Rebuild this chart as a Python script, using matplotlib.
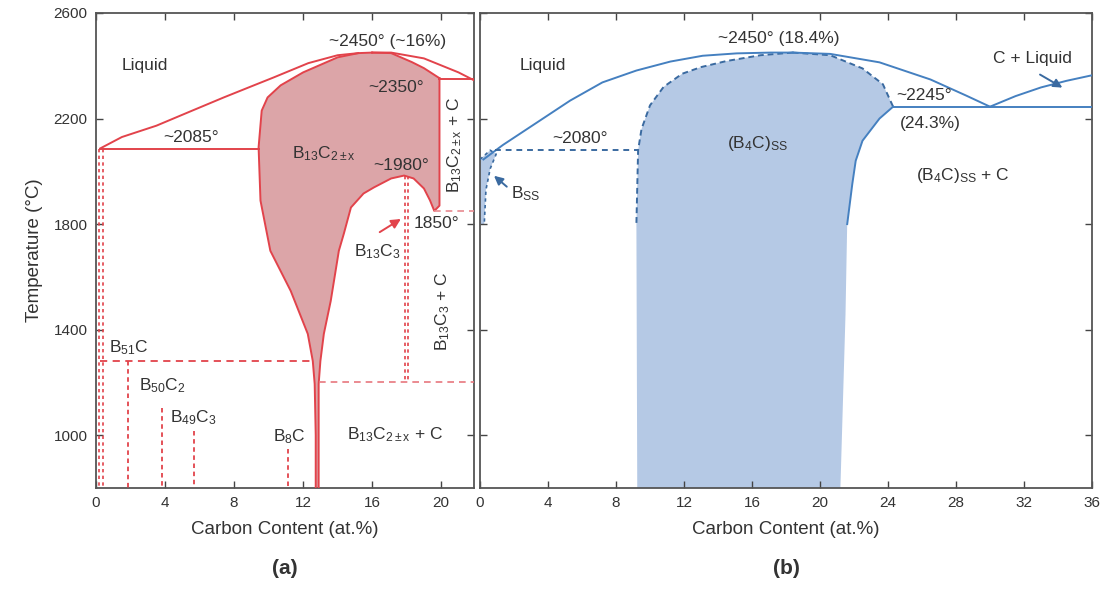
import matplotlib
matplotlib.use("Agg")
import matplotlib.pyplot as plt

plt.rcParams['font.family'] = ['Liberation Sans', 'DejaVu Sans']
plt.rcParams['mathtext.fontset'] = 'custom'
plt.rcParams['mathtext.rm'] = 'Liberation Sans'
plt.rcParams['mathtext.it'] = 'Liberation Sans'
plt.rcParams['mathtext.default'] = 'regular'

# ---------------- data: panel (a) ----------------
liq_a_left_x = [0.25, 1.5, 3.5, 5.5, 7.4, 9.0, 10.3, 12.3, 14.0, 15.2, 16.0]
liq_a_left_T = [2087, 2130, 2173, 2228, 2280, 2322, 2356, 2410, 2440, 2448, 2450]
liq_a_right_x = [16.0, 17.1, 19.0, 21.0, 21.9]
liq_a_right_T = [2450, 2450, 2428, 2375, 2345]
sol_a_right_x = [16.0, 17.1, 18.3, 19.0, 19.9]
sol_a_right_T = [2450, 2448, 2414, 2391, 2353]
b13_left_x = [15.2, 14.0, 12.0, 10.7, 9.94, 9.6, 9.42, 9.53, 10.1, 11.28, 12.27, 12.56, 12.67, 12.73, 12.73]
b13_left_T = [2448, 2432, 2375, 2326, 2280, 2230, 2091, 1889, 1699, 1547, 1384, 1281, 1194, 1000, 800]
b13_right_x = [12.9, 12.9, 12.9, 13.0, 13.2, 13.6, 14.07, 14.36, 14.77, 15.5, 16.1, 17.1, 17.85, 18.4, 19.0, 19.35, 19.6, 19.9, 19.9]
b13_right_T = [800, 1000, 1194, 1281, 1384, 1509, 1699, 1764, 1863, 1916, 1939, 1973, 1984, 1973, 1935, 1890, 1850, 1870, 2353]
eut_a_T = 2085
eut_a_x = [0.25, 9.42]
per_a_T = 2350
per_a_x = [19.9, 21.9]
b13c3_x = 18.0
b13c3_T = [1984, 1200]
line1850_x = [19.6, 21.9]
line1850_T = 1850
line1200_x = [12.9, 21.9]
line1200_T = 1200
line1280_x = [0.25, 12.6]
line1280_T = 1280
bss_a_x = 0.3
bss_a_T = [2085, 800]
compounds_x = [1.86, 3.82, 5.7, 11.1]
compounds_Ttop = [1280, 1104, 1015, 947]

# ---------------- data: panel (b) ----------------
liq_b_left_x = [0.2, 1.35, 3.35, 5.3, 7.2, 9.2, 11.2, 13.1, 15.1, 17.1, 18.4]
liq_b_left_T = [2045, 2100, 2185, 2268, 2337, 2382, 2416, 2438, 2447, 2450, 2450]
liq_b_right_x = [18.4, 20.6, 23.5, 26.5, 28.6, 30.0]
liq_b_right_T = [2450, 2445, 2413, 2348, 2287, 2245]
cliq_x = [30.0, 31.5, 33.0, 34.5, 36.0]
cliq_T = [2245, 2285, 2318, 2343, 2364]
sol_b_right_x = [18.4, 20.6, 22.5, 23.7, 24.3]
sol_b_right_T = [2450, 2440, 2390, 2330, 2245]
solvus_b_x = [24.3, 23.5, 22.5, 22.1, 21.9, 21.6, 21.5, 21.2]
solvus_b_T = [2245, 2200, 2116, 2040, 1952, 1800, 1457, 800]
b4c_left_x = [18.4, 16.5, 14.5, 13.0, 11.9, 10.8, 10.0, 9.5, 9.3, 9.2, 9.25]
b4c_left_T = [2450, 2440, 2418, 2395, 2370, 2320, 2250, 2160, 2080, 1800, 800]
eut_b_x = [24.3, 36.0]
eut_b_T = 2245
line2080_x = [0.9, 9.3]
line2080_T = 2080
bss_b_x = [0.0, 0.6, 0.95, 0.6, 0.35, 0.25, 0.0]
bss_b_T = [2045, 2080, 2065, 2010, 1930, 1800, 1800]

RED = '#e2434b'
PINK = '#dca5a8'
BLUE = '#4580c0'
DBLUE = '#3a6aa0'
LBLUE = '#b5c9e5'
TXT = '#333333'

fig = plt.figure(figsize=(11.03, 6.01), dpi=100)
axa = fig.add_axes([96/1103, 1-488/601, 378/1103, 475/601])
axb = fig.add_axes([480/1103, 1-488/601, 612/1103, 475/601])

for ax in (axa, axb):
    ax.set_ylim(800, 2600)
    ax.set_yticks([1000, 1400, 1800, 2200, 2600])
    ax.tick_params(direction='in', top=True, right=True, length=5, width=1,
                   labelsize=11, colors='#444444', labelcolor='#333333', pad=6)
    for s in ax.spines.values():
        s.set_color('#555555')
        s.set_linewidth(1.3)
    ax.set_xlabel('Carbon Content (at.%)', fontsize=13.5, color=TXT, labelpad=8)

axa.set_xlim(0, 21.9)
axa.set_xticks([0, 4, 8, 12, 16, 20])
axb.set_xlim(0, 36)
axb.set_xticks(list(range(0, 37, 4)))
axb.tick_params(labelleft=False)
axa.set_ylabel('Temperature (°C)', fontsize=13.5, color=TXT, labelpad=8)

# ---------- panel (a) ----------
poly_x = b13_left_x + b13_right_x + sol_a_right_x[::-1]
poly_T = b13_left_T + b13_right_T + sol_a_right_T[::-1]
axa.fill(poly_x, poly_T, color=PINK, lw=0, zorder=1)
axa.plot(b13_left_x, b13_left_T, color=RED, lw=1.4, zorder=3)
axa.plot(b13_right_x, b13_right_T, color=RED, lw=1.4, zorder=3)
axa.plot(liq_a_left_x, liq_a_left_T, color=RED, lw=1.4, zorder=3)
axa.plot(liq_a_right_x, liq_a_right_T, color=RED, lw=1.4, zorder=3)
axa.plot(sol_a_right_x, sol_a_right_T, color=RED, lw=1.4, zorder=3)
axa.plot(eut_a_x, [eut_a_T]*2, color=RED, lw=1.4, zorder=3)
axa.plot(per_a_x, [per_a_T]*2, color=RED, lw=1.4, zorder=3)
axa.plot(line1850_x, [line1850_T]*2, color='#e88a90', lw=1.2, ls=(0, (4, 3)), zorder=3)
axa.plot(line1200_x, [line1200_T]*2, color='#e8777e', lw=1.2, ls=(0, (4, 3)), zorder=3)
axa.plot(line1280_x, [line1280_T]*2, color=RED, lw=1.3, ls=(0, (4, 3)), zorder=3)
for dx in (-0.1, 0.1):
    axa.plot([b13c3_x + dx]*2, b13c3_T, color=RED, lw=1.2, ls=(0, (2, 2)), zorder=3)
    axa.plot([bss_a_x + dx]*2, bss_a_T, color=RED, lw=1.2, ls=(0, (2, 2)), zorder=3)
for cx, ct in zip(compounds_x, compounds_Ttop):
    axa.plot([cx, cx], [ct, 800], color=RED, lw=1.3, ls=(0, (2.5, 2)), zorder=3)
axa.annotate('', xy=(17.8, 1825), xytext=(16.3, 1764),
             arrowprops=dict(arrowstyle='-|>', color=RED, lw=1.4, mutation_scale=14), zorder=4)

fs = 12.5
kw = dict(fontsize=fs, color=TXT, ha='center', va='center', zorder=5)
axa.text(2.85, 2402, 'Liquid', **kw)
axa.text(16.9, 2492, '~2450° (~16%)', **kw)
axa.text(17.4, 2319, '~2350°', **kw)
axa.text(5.5, 2129, '~2085°', **kw)
axa.text(13.2, 2068, r'B$_{13}$C$_{2\pm x}$', **kw)
axa.text(17.7, 2022, '~1980°', **kw)
axa.text(20.8, 2100, r'B$_{13}$C$_{2\pm x}$ + C', rotation=90, **kw)
axa.text(19.7, 1802, '1850°', **kw)
axa.text(16.3, 1695, r'B$_{13}$C$_{3}$', **kw)
axa.text(20.1, 1471, r'B$_{13}$C$_{3}$ + C', rotation=90, **kw)
axa.text(1.9, 1331, r'B$_{51}$C', **kw)
axa.text(3.85, 1186, r'B$_{50}$C$_{2}$', **kw)
axa.text(5.65, 1065, r'B$_{49}$C$_{3}$', **kw)
axa.text(11.2, 996, r'B$_{8}$C', **kw)
axa.text(17.3, 1004, r'B$_{13}$C$_{2\pm x}$ + C', **kw)

# ---------- panel (b) ----------
bx = b4c_left_x + solvus_b_x[::-1] + sol_b_right_x[::-1][1:]
bT = b4c_left_T + solvus_b_T[::-1] + sol_b_right_T[::-1][1:]
axb.fill(bx, bT, color=LBLUE, lw=0, zorder=1)
axb.fill(bss_b_x, bss_b_T, color=LBLUE, lw=0, zorder=1)
axb.plot(bss_b_x[:-1], bss_b_T[:-1], color=DBLUE, lw=1.2, ls=(0, (2, 2)), zorder=3)
axb.plot(b4c_left_x[:-1], b4c_left_T[:-1], color=DBLUE, lw=1.4, ls=(0, (3, 2)), zorder=3)
axb.plot(sol_b_right_x, sol_b_right_T, color=DBLUE, lw=1.4, ls=(0, (3, 2)), zorder=3)
axb.plot(solvus_b_x[:6], solvus_b_T[:6], color=BLUE, lw=1.4, zorder=3)
axb.plot(liq_b_left_x, liq_b_left_T, color=BLUE, lw=1.4, zorder=3)
axb.plot(liq_b_right_x, liq_b_right_T, color=BLUE, lw=1.4, zorder=3)
axb.plot(cliq_x, cliq_T, color=BLUE, lw=1.4, zorder=3)
axb.plot(eut_b_x, [eut_b_T]*2, color=BLUE, lw=1.4, zorder=3)
axb.plot(line2080_x, [line2080_T]*2, color=DBLUE, lw=1.4, ls=(0, (3, 2.5)), zorder=3)
axb.annotate('', xy=(0.7, 1990), xytext=(1.7, 1935),
             arrowprops=dict(arrowstyle='-|>', color=DBLUE, lw=1.4, mutation_scale=13), zorder=4)
axb.annotate('', xy=(34.4, 2312), xytext=(32.8, 2372),
             arrowprops=dict(arrowstyle='-|>', color=DBLUE, lw=1.4, mutation_scale=13), zorder=4)

axb.text(3.7, 2402, 'Liquid', **kw)
axb.text(17.6, 2505, '~2450° (18.4%)', **kw)
axb.text(5.9, 2124, '~2080°', **kw)
axb.text(16.35, 2105, r'(B$_{4}$C)$_{SS}$', **kw)
axb.text(2.7, 1915, r'B$_{SS}$', **kw)
axb.text(26.1, 2288, '~2245°', **kw)
axb.text(26.5, 2181, '(24.3%)', **kw)
axb.text(28.4, 1983, r'(B$_{4}$C)$_{SS}$ + C', **kw)
axb.text(32.5, 2428, 'C + Liquid', **kw)

fig.text(285/1103, 1-568/601, '(a)', fontsize=15, fontweight='bold', color=TXT, ha='center', va='center')
fig.text(786/1103, 1-568/601, '(b)', fontsize=15, fontweight='bold', color=TXT, ha='center', va='center')

fig.savefig('out.png', dpi=100)
